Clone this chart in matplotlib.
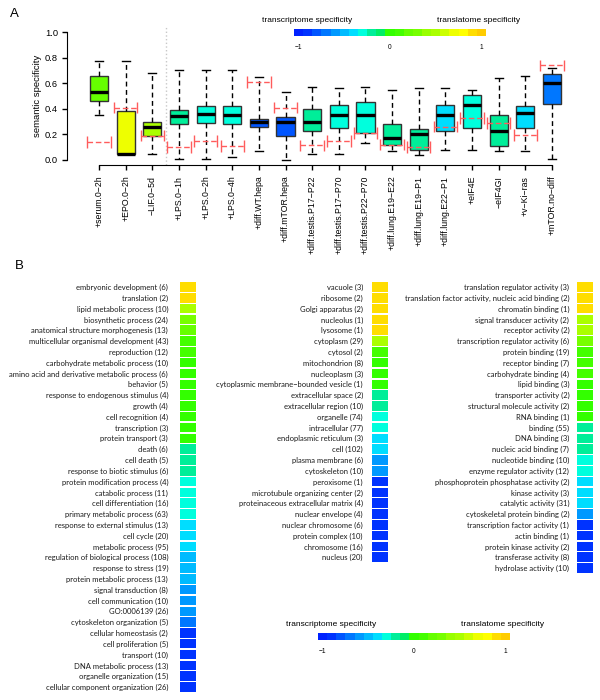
import numpy as np
import matplotlib
matplotlib.use('Agg')
import matplotlib.pyplot as plt
from matplotlib.colors import ListedColormap, Normalize
from matplotlib.cm import ScalarMappable

# ---- panel A data -------------------------------------------------------
conditions = ['+serum.0−2h', '+EPO.0−2h', '−LIF.0−5d', '+LPS.0−1h', '+LPS.0−2h',
              '+LPS.0−4h', '+diff.WT.hepa', '+diff.mTOR.hepa', '+diff.testis.P17−P22',
              '+diff.testis.P17−P70', '+diff.testis.P22−P70', '+diff.lung.E19−E22',
              '+diff.lung.E19−P1', '+diff.lung.E22−P1', '+eIF4E', '−eIF4GI',
              '+v−Ki−ras', '+mTOR.no−diff']
whis_lo = [0.35, 0.05, 0.05, 0.01, 0.01, 0.02, 0.07, 0.00, 0.05, 0.05, 0.13, 0.07,
           0.04, 0.08, 0.08, 0.07, 0.07, 0.01]
q1 = [0.46, 0.05, 0.19, 0.28, 0.29, 0.28, 0.26, 0.19, 0.23, 0.25, 0.21, 0.115,
      0.08, 0.23, 0.25, 0.11, 0.25, 0.44]
median = [0.53, 0.05, 0.26, 0.34, 0.36, 0.35, 0.30, 0.30, 0.30, 0.35, 0.35, 0.17,
          0.20, 0.35, 0.43, 0.23, 0.37, 0.60]
q3 = [0.66, 0.38, 0.30, 0.39, 0.42, 0.42, 0.32, 0.335, 0.40, 0.43, 0.45, 0.28,
      0.24, 0.43, 0.51, 0.35, 0.42, 0.67]
whis_hi = [0.77, 0.77, 0.68, 0.70, 0.70, 0.70, 0.65, 0.53, 0.57, 0.56, 0.57, 0.55,
           0.56, 0.56, 0.55, 0.64, 0.66, 0.72]
reference = [0.14, 0.41, 0.19, 0.10, 0.15, 0.11, 0.61, 0.41, 0.115, 0.15, 0.21, 0.12,
             0.10, 0.26, 0.33, 0.29, 0.195, 0.74]
box_spec = [0.2, 0.7, 0.5, -0.2, -0.3, -0.3, -0.8, -0.8, -0.2, -0.3, -0.3, -0.2,
            -0.2, -0.4, -0.3, -0.2, -0.4, -0.7]

# ---- panel B data -------------------------------------------------------
bp_terms = ['embryonic development (6)', 'translation (2)', 'lipid metabolic process (10)',
            'biosynthetic process (24)', 'anatomical structure morphogenesis (13)',
            'multicellular organismal development (43)', 'reproduction (12)',
            'carbohydrate metabolic process (10)', 'amino acid and derivative metabolic process (6)',
            'behavior (5)', 'response to endogenous stimulus (4)', 'growth (4)',
            'cell recognition (4)', 'transcription (3)', 'protein transport (3)', 'death (6)',
            'cell death (5)', 'response to biotic stimulus (6)', 'protein modification process (4)',
            'catabolic process (11)', 'cell differentiation (16)', 'primary metabolic process (63)',
            'response to external stimulus (13)', 'cell cycle (20)', 'metabolic process (95)',
            'regulation of biological process (108)', 'response to stress (19)',
            'protein metabolic process (13)', 'signal transduction (8)', 'cell communication (10)',
            'GO:0006139 (26)', 'cytoskeleton organization (5)', 'cellular homeostasis (2)',
            'cell proliferation (5)', 'transport (10)', 'DNA metabolic process (13)',
            'organelle organization (15)', 'cellular component organization (26)']
bp_spec = [0.9, 0.9, 0.5, 0.3, 0.2, 0.1, 0.1, 0.0, 0.0, 0.0, 0.0, 0.0, 0.0, 0.0, 0.0,
           -0.2, -0.2, -0.2, -0.3, -0.3, -0.3, -0.3, -0.4, -0.4, -0.35, -0.5, -0.5, -0.5,
           -0.6, -0.6, -0.6, -0.7, -0.9, -0.9, -0.9, -0.9, -0.9, -0.9]

cc_terms = ['vacuole (3)', 'ribosome (2)', 'Golgi apparatus (2)', 'nucleolus (1)', 'lysosome (1)',
            'cytoplasm (29)', 'cytosol (2)', 'mitochondrion (8)', 'nucleoplasm (3)',
            'cytoplasmic membrane−bounded vesicle (1)', 'extracellular space (2)',
            'extracellular region (10)', 'organelle (74)', 'intracellular (77)',
            'endoplasmic reticulum (3)', 'cell (102)', 'plasma membrane (6)', 'cytoskeleton (10)',
            'peroxisome (1)', 'microtubule organizing center (2)',
            'proteinaceous extracellular matrix (4)', 'nuclear envelope (4)',
            'nuclear chromosome (6)', 'protein complex (10)', 'chromosome (16)', 'nucleus (20)']
cc_spec = [0.9, 0.9, 0.9, 0.9, 0.9, 0.5, 0.1, 0.0, 0.0, 0.0, -0.2, -0.2, -0.3, -0.3,
           -0.4, -0.4, -0.6, -0.6, -0.9, -0.9, -0.9, -0.9, -0.9, -0.9, -0.9, -0.9]

mf_terms = ['translation regulator activity (3)', 'translation factor activity, nucleic acid binding (2)',
            'chromatin binding (1)', 'signal transducer activity (2)', 'receptor activity (2)',
            'transcription regulator activity (6)', 'protein binding (19)', 'receptor binding (7)',
            'carbohydrate binding (4)', 'lipid binding (3)', 'transporter activity (2)',
            'structural molecule activity (2)', 'RNA binding (1)', 'binding (55)', 'DNA binding (3)',
            'nucleic acid binding (7)', 'nucleotide binding (10)', 'enzyme regulator activity (12)',
            'phosphoprotein phosphatase activity (2)', 'kinase activity (3)', 'catalytic activity (31)',
            'cytoskeletal protein binding (2)', 'transcription factor activity (1)',
            'actin binding (1)', 'protein kinase activity (2)', 'transferase activity (8)',
            'hydrolase activity (10)']
mf_spec = [0.9, 0.9, 0.9, 0.5, 0.5, 0.3, 0.1, 0.1, 0.1, 0.0, 0.0, 0.0, 0.0, -0.2, -0.2,
           -0.2, -0.3, -0.3, -0.4, -0.4, -0.4, -0.6, -0.9, -0.9, -0.9, -0.9, -0.9]

# 21-step palette from transcriptome (blue) to translatome (gold)
palette = ['#0022ff', '#0033ff', '#0055ff', '#0077ff', '#0099ff', '#00bbff', '#00ddff',
           '#00ffdd', '#00ee99', '#00ee66', '#33ff00', '#44ff00', '#66ff00', '#77ff00',
           '#99ff00', '#aaff00', '#ccff00', '#eeff00', '#ffff00', '#ffdd00', '#ffcc00']
cmap = ListedColormap(palette)
norm = Normalize(-1, 1)

W, H = 600, 700
fig = plt.figure(figsize=(6, 7), dpi=100)
fig.patch.set_facecolor('white')
AFONT = 'Liberation Sans'
BFONT = ['Lato', 'DejaVu Sans']


def px_axes(x0, y0, x1, y1):
    return fig.add_axes([x0 / W, 1 - y1 / H, (x1 - x0) / W, (y1 - y0) / H])


# ---- panel A ------------------------------------------------------------
ax = px_axes(66.5, 26.9, 584.5, 165.1)
n = len(conditions)
pos = np.arange(1, n + 1)
ax.set_xlim(-0.22, n + 1.22)
ax.set_ylim(-0.04, 1.04)

ax.axvline(3.5, color='#c8c8c8', linestyle=':', lw=1, zorder=0)

stats = [dict(med=median[i], q1=q1[i], q3=q3[i], whislo=whis_lo[i], whishi=whis_hi[i],
              fliers=[]) for i in range(n)]
bp = ax.bxp(stats, positions=pos, widths=0.68, capwidths=0.3, patch_artist=True,
            showfliers=False, manage_ticks=False,
            boxprops=dict(edgecolor='#333333', linewidth=1),
            whiskerprops=dict(color='black', linewidth=1, linestyle=(0, (3.5, 2.5))),
            capprops=dict(color='black', linewidth=1),
            medianprops=dict(color='black', linewidth=2.4, solid_capstyle='butt'))
for patch, s in zip(bp['boxes'], box_spec):
    patch.set_facecolor(cmap(norm(s)))

red = '#ff5c5c'
ref = np.array(reference)
ax.hlines(ref, pos - 0.44, pos + 0.44, colors=red, linestyles=(0, (4, 2)), lw=1, zorder=5)
ax.vlines(np.r_[pos - 0.44, pos + 0.44], np.r_[ref, ref] - 0.045, np.r_[ref, ref] + 0.045,
          colors=red, lw=1, zorder=5)

for side in ['top', 'right']:
    ax.spines[side].set_visible(False)
ax.spines['left'].set_bounds(0, 1)
ax.spines['bottom'].set_bounds(1, n)
ax.set_yticks([0, 0.2, 0.4, 0.6, 0.8, 1.0])
ax.set_yticklabels(['0.0', '0.2', '0.4', '0.6', '0.8', '1.0'], fontsize=6.7, family=AFONT)
ax.set_xticks(pos)
ax.set_xticklabels(conditions, rotation=90, fontsize=6.3, family=AFONT, va='top')
ax.tick_params(axis='y', length=3.6, width=1, pad=2.5)
ax.tick_params(axis='x', length=3.6, width=1, pad=4)
ax.set_ylabel('semantic specificity', fontsize=6.8, family=AFONT)
ax.yaxis.set_label_coords(-0.047, 0.5)


def spec_bar(x0, x1, y0, y1):
    cax = px_axes(x0, y0, x1, y1)
    cb = fig.colorbar(ScalarMappable(norm=norm, cmap=cmap), cax=cax,
                      orientation='horizontal')
    half = 1.0 / cmap.N
    cb.set_ticks([-1 + half, 0, 1 - half], labels=['−1', '0', '1'])
    cb.outline.set_visible(False)
    cax.tick_params(length=0, pad=5.5, labelsize=4.8)
    for t in cax.get_xticklabels():
        t.set_family(AFONT)
    hh, ww = y1 - y0, x1 - x0
    cax.text(-32 / ww, 1 + 9 / hh, 'transcriptome specificity', fontsize=6,
             family=AFONT, ha='left', va='center', transform=cax.transAxes)
    cax.text(1 - 7 / ww, 1 + 9 / hh, 'translatome specificity', fontsize=6,
             family=AFONT, ha='center', va='center', transform=cax.transAxes)
    return cax


spec_bar(294, 486, 29, 36)

# ---- panel B ------------------------------------------------------------
ROW = 10.81


def term_column(x0, terms, spec, pad):
    m = len(terms)
    top = 287 - ROW / 2
    cax = px_axes(x0, top, x0 + 16, top + m * ROW)
    y = np.arange(m)
    cax.barh(y, 1, left=0, height=0.88, color=[cmap(norm(v)) for v in spec])
    cax.set_xlim(0, 1)
    cax.set_ylim(m - 0.5, -0.5)
    cax.set_xticks([])
    cax.set_yticks(y)
    cax.set_yticklabels(terms, fontsize=5.5, family=BFONT, color='#1a1a1a')
    cax.tick_params(axis='y', length=0, pad=pad)
    for s in cax.spines.values():
        s.set_visible(False)


term_column(180, bp_terms, bp_spec, 8.5)
term_column(372, cc_terms, cc_spec, 6.5)
term_column(577, mf_terms, mf_spec, 5.5)

spec_bar(318, 510, 633, 640)

fig.text(10 / W, 1 - 14 / H, 'A', fontsize=9.5, family=AFONT, va='center', ha='left')
fig.text(15 / W, 1 - 266 / H, 'B', fontsize=9.5, family=AFONT, va='center', ha='left')

fig.savefig('out.png', dpi=100)
